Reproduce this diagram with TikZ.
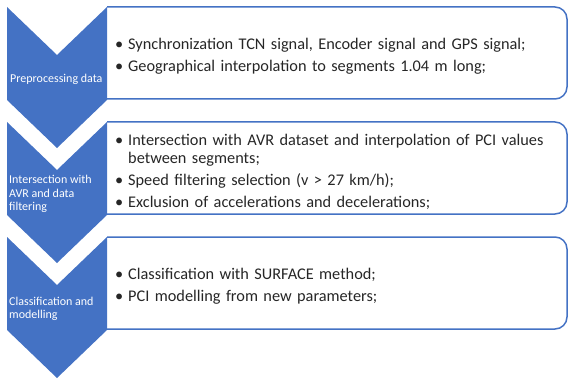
\documentclass[tikz,border=0pt]{standalone}
\usepackage{fontspec}
\setmainfont{Carlito}
\usepackage{enumitem}
\definecolor{stageblue}{HTML}{4472C4}
\definecolor{itemgray}{HTML}{262626}
\newcommand{\stagefont}{\fontsize{12}{13.6}\selectfont}
\newcommand{\itemfont}{\fontsize{16.3}{18.4}\selectfont}
\setlist[itemize]{label=\textbullet,leftmargin=13pt,labelsep=5pt,topsep=0pt,partopsep=0pt,parsep=0pt,itemsep=3.3pt}

\begin{document}
\begin{tikzpicture}[x=1pt,y=1pt]
    \tikzstyle{stage} = [fill=stageblue]
    \tikzstyle{stepframe} = [draw=stageblue,line width=1.5pt,rounded corners=12pt]
    \tikzstyle{stagelabel} = [anchor=west,align=left,text=white,font=\stagefont,inner sep=0pt]
    \tikzstyle{stepitems} = [anchor=west,text width=450pt,text=itemgray,font=\itemfont,inner sep=0pt]
      \useasboundingbox (0,0) rectangle (569,378);
      \foreach \t in {371,256,141} {
        \draw[stepframe] (107,\t) -- (567,\t) -- (567,\t-92) -- (107,\t-92);
        \fill[stage] (7,\t) -- (57,\t-48) -- (107,\t) -- (107,\t-93) -- (57,\t-141) -- (7,\t-93) -- cycle;
      }
      \node[stagelabel] (preproc) at (10,299) {Preprocessing data};
      \node[stagelabel] (inters) at (9,184) {Intersection with\\AVR and data\\filtering};
      \node[stagelabel] (classif) at (9,69) {Classification and\\modelling};
      \node[stepitems] (preprocItems) at (115,325) {\begin{itemize}
        \item Synchronization TCN signal, Encoder signal and GPS signal;
        \item Geographical interpolation to segments 1.04 m long;
      \end{itemize}};
      \node[stepitems] (intersItems) at (115,210) {\begin{itemize}
        \item Intersection with AVR dataset and interpolation of PCI values\newline between segments;
        \item Speed filtering selection (v > 27 km/h);
        \item Exclusion of accelerations and decelerations;
      \end{itemize}};
      \node[stepitems] (classifItems) at (115,95) {\begin{itemize}
        \item Classification with SURFACE method;
        \item PCI modelling from new parameters;
      \end{itemize}};
  \end{tikzpicture}
\end{document}
